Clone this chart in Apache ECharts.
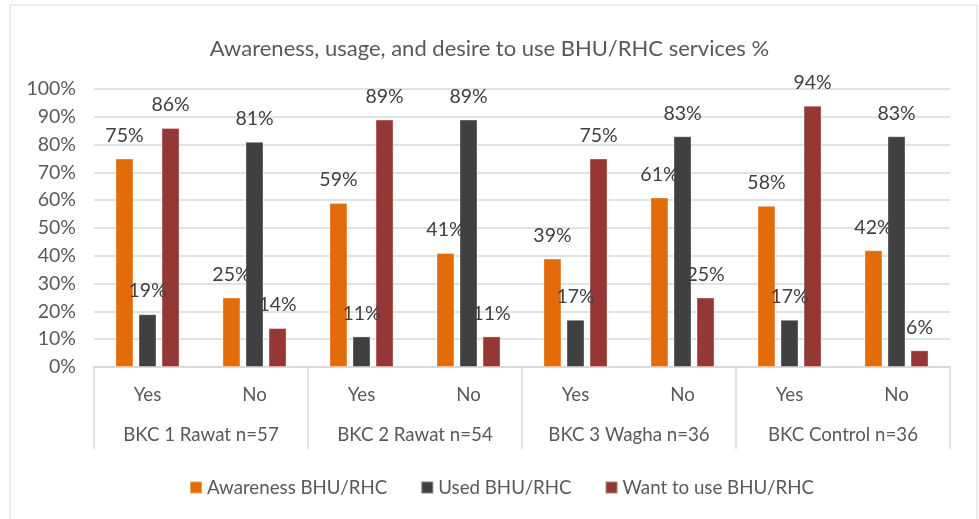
<!DOCTYPE html>
<html><head><meta charset="utf-8">
<script src="https://cdn.jsdelivr.net/npm/echarts@6/dist/echarts.min.js"></script>
<style>html,body{margin:0;padding:0;background:#fff}#c{width:979px;height:519px}</style>
</head><body><div id="c"></div>
<script>
const titleText = 'Awareness, usage, and desire to use BHU/RHC services %';
const subCategories = ['Yes','No','Yes','No','Yes','No','Yes','No'];
const groups = ['BKC 1 Rawat n=57','BKC 2 Rawat n=54','BKC 3 Wagha n=36','BKC Control n=36'];
const seriesNames = ['Awareness BHU/RHC','Used BHU/RHC','Want to use BHU/RHC'];
const awareness = [75,25,59,41,39,61,58,42];
const used = [19,81,11,89,17,83,17,83];
const want = [86,14,89,11,75,25,94,6];
const colors = ['#E36C0A','#404040','#953735'];

const FONT = 'Lato';
const TXT = 18.7, NUM = 19.5;
const chart = echarts.init(document.getElementById('c'));
const mk = (name, data, color) => ({
  name, type:'bar', data, barWidth:18, barGap:'28%',
  itemStyle:{color, borderColor:'rgba(255,255,255,0.35)', borderWidth:1},
  label:{show:true, position:'top', distance:13, formatter:p=>p.value+'%', color:'#404040', fontSize:NUM, fontFamily:FONT},
  xAxisIndex:0
});
chart.setOption({
  animation:false,
  textStyle:{fontFamily:FONT},
  title:{text:titleText, left:'center', top:33, textStyle:{fontSize:22, fontWeight:'normal', color:'#595959', fontFamily:FONT}},
  legend:{top:473, left:184, itemWidth:12, itemHeight:12, itemGap:33, icon:'rect',
    textStyle:{fontSize:TXT, color:'#595959', fontFamily:FONT}, data:seriesNames},
  grid:{left:94, right:29, top:89, bottom:152},
  xAxis:[
    {type:'category', data:subCategories, position:'bottom',
      axisLine:{lineStyle:{color:'#D9D9D9', width:1.5}}, axisTick:{show:false},
      axisLabel:{margin:18, fontSize:TXT, color:'#595959', fontFamily:FONT}},
    {type:'category', data:groups, position:'bottom', offset:0,
      axisLine:{show:true, lineStyle:{color:'#D9D9D9', width:1.5}},
      axisTick:{show:true, length:82, lineStyle:{color:'#D9D9D9', width:1.5}},
      axisLabel:{margin:58, fontSize:TXT, color:'#595959', fontFamily:FONT}}
  ],
  yAxis:{type:'value', min:0, max:100, interval:10,
    axisLine:{show:false}, axisTick:{show:false},
    axisLabel:{formatter:'{value}%', fontSize:NUM, color:'#595959', margin:18, fontFamily:FONT},
    splitLine:{lineStyle:{color:'#D9D9D9', width:1.5}}},
  graphic:[{type:'rect', shape:{x:10, y:5, width:967, height:530}, style:{fill:'none', stroke:'#D9D9D9', lineWidth:1}, silent:true}],
  series:[mk(seriesNames[0], awareness, colors[0]), mk(seriesNames[1], used, colors[1]), mk(seriesNames[2], want, colors[2])]
});
</script></body></html>
